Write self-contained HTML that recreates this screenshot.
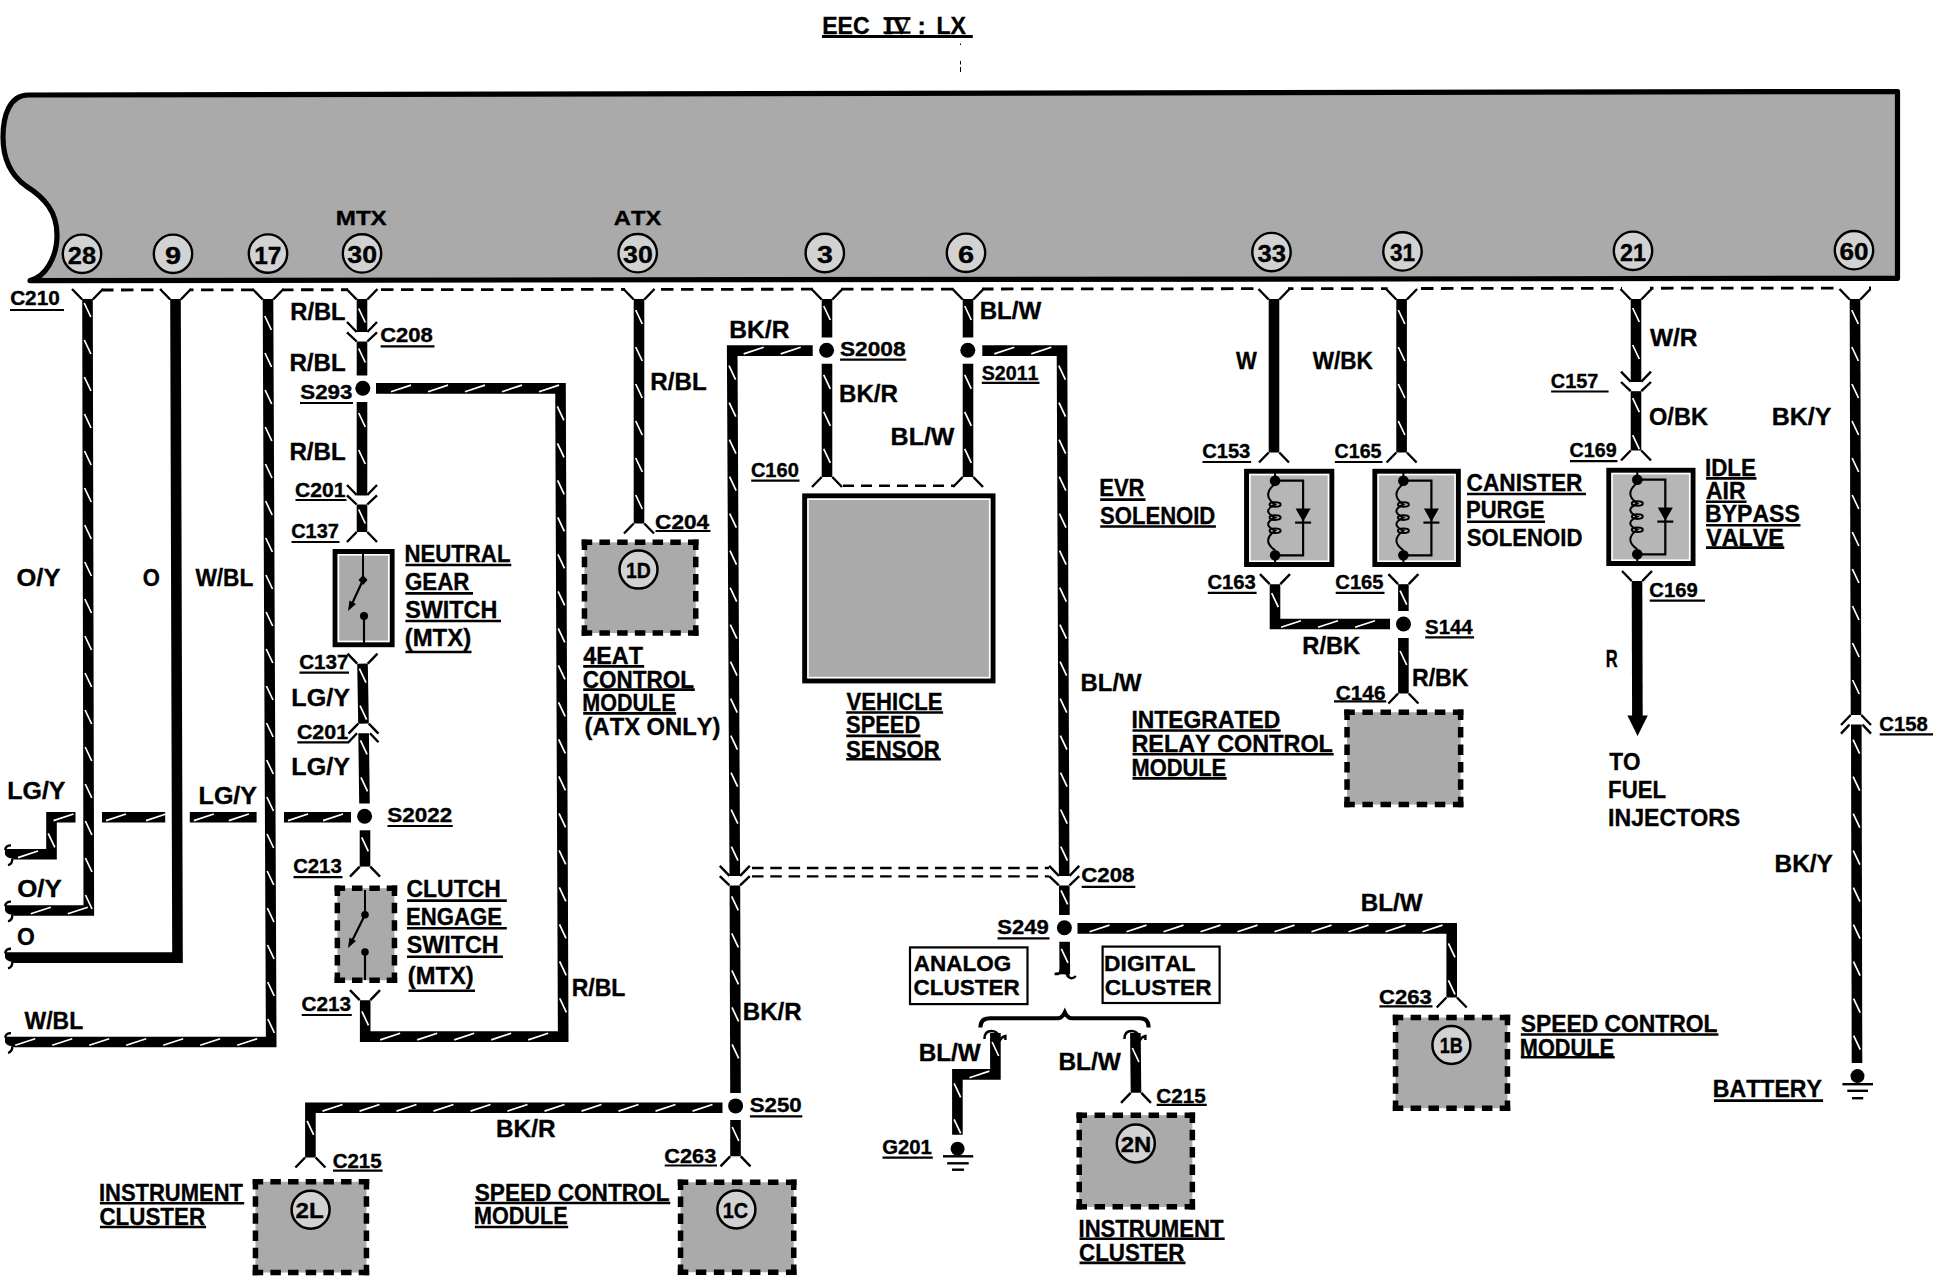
<!DOCTYPE html>
<html><head><meta charset="utf-8"><title>EEC IV : LX</title>
<style>
html,body{margin:0;padding:0;background:#fff;}
body{width:1934px;height:1280px;overflow:hidden;}
svg{display:block;}
text{font-family:"Liberation Sans",sans-serif;font-weight:bold;fill:#000;font-kerning:none;stroke:#000;stroke-width:0.35px;}
</style></head>
<body>
<svg width="1934" height="1280" viewBox="0 0 1934 1280">
<rect width="1934" height="1280" fill="#fff"/>
<text x="822.26" y="33.7" font-size="23.55" textLength="47.37" lengthAdjust="spacingAndGlyphs">EEC</text>
<text x="884" y="33.7" font-size="23.5" style="font-family:'Liberation Serif',serif" textLength="26" lengthAdjust="spacingAndGlyphs">IV</text>
<line x1="883.5" y1="18.3" x2="910.5" y2="18.3" stroke="#000" stroke-width="2.4"/>
<line x1="883.5" y1="32.6" x2="910.5" y2="32.6" stroke="#000" stroke-width="2.4"/>
<text x="917.61" y="33.7" font-size="23.55" textLength="8.29" lengthAdjust="spacingAndGlyphs">:</text>
<text x="936.45" y="33.7" font-size="23.55" textLength="29.55" lengthAdjust="spacingAndGlyphs">LX</text>
<line x1="822" y1="36.6" x2="972.8" y2="36.6" stroke="#000" stroke-width="3"/>
<line x1="960.5" y1="43.5" x2="960.5" y2="45" stroke="#000" stroke-width="1"/>
<line x1="960.5" y1="61" x2="960.5" y2="64.5" stroke="#000" stroke-width="1"/>
<line x1="960.5" y1="67" x2="960.5" y2="72" stroke="#000" stroke-width="1"/>
<path d="M 28 95 L 1897.5 91.5 L 1897.5 278.3 L 30 280.6 C 45 277 57 258 57 235 C 57 212 45 198 26 186 C 12 176 3 160 3 137 C 3 115 10 95 28 95 Z" fill="#aaaaaa" stroke="#000" stroke-width="5.2" stroke-linejoin="round"/>
<circle cx="82" cy="253.8" r="19.2" fill="#d2d2d2" stroke="#000" stroke-width="2.4"/>
<text x="67.87" y="263.8" font-size="23.84" textLength="28.16" lengthAdjust="spacingAndGlyphs">28</text>
<circle cx="173" cy="253.8" r="19.2" fill="#d2d2d2" stroke="#000" stroke-width="2.4"/>
<text x="165" y="263.8" font-size="23.84" textLength="16.07" lengthAdjust="spacingAndGlyphs">9</text>
<circle cx="268" cy="253.6" r="19.2" fill="#d2d2d2" stroke="#000" stroke-width="2.4"/>
<text x="254.22" y="263.6" font-size="23.84" textLength="27.11" lengthAdjust="spacingAndGlyphs">17</text>
<circle cx="362" cy="253.4" r="19.2" fill="#d2d2d2" stroke="#000" stroke-width="2.4"/>
<text x="347.39" y="263.4" font-size="23.84" textLength="29.71" lengthAdjust="spacingAndGlyphs">30</text>
<circle cx="637.7" cy="253.2" r="19.2" fill="#d2d2d2" stroke="#000" stroke-width="2.4"/>
<text x="623.09" y="263.2" font-size="23.84" textLength="29.71" lengthAdjust="spacingAndGlyphs">30</text>
<circle cx="824.8" cy="253" r="19.2" fill="#d2d2d2" stroke="#000" stroke-width="2.4"/>
<text x="817.04" y="263" font-size="23.84" textLength="15.89" lengthAdjust="spacingAndGlyphs">3</text>
<circle cx="966" cy="252.8" r="19.2" fill="#d2d2d2" stroke="#000" stroke-width="2.4"/>
<text x="957.94" y="262.8" font-size="23.84" textLength="16.11" lengthAdjust="spacingAndGlyphs">6</text>
<circle cx="1271.5" cy="252.1" r="19.2" fill="#d2d2d2" stroke="#000" stroke-width="2.4"/>
<text x="1257.41" y="262.1" font-size="23.84" textLength="28.51" lengthAdjust="spacingAndGlyphs">33</text>
<circle cx="1402.5" cy="251.4" r="19.2" fill="#d2d2d2" stroke="#000" stroke-width="2.4"/>
<text x="1389.98" y="261.4" font-size="23.84" textLength="25.15" lengthAdjust="spacingAndGlyphs">31</text>
<circle cx="1633" cy="250.8" r="19.2" fill="#d2d2d2" stroke="#000" stroke-width="2.4"/>
<text x="1619.89" y="260.8" font-size="23.84" textLength="26.06" lengthAdjust="spacingAndGlyphs">21</text>
<circle cx="1854" cy="250.2" r="19.2" fill="#d2d2d2" stroke="#000" stroke-width="2.4"/>
<text x="1839.54" y="260.2" font-size="23.84" textLength="29.03" lengthAdjust="spacingAndGlyphs">60</text>
<text x="335.79" y="225.15" font-size="21.08" textLength="50.93" lengthAdjust="spacingAndGlyphs">MTX</text>
<text x="613.81" y="225.25" font-size="21.08" textLength="47.4" lengthAdjust="spacingAndGlyphs">ATX</text>
<line x1="101" y1="290" x2="1871" y2="288" stroke="#000" stroke-width="2.8" stroke-dasharray="12.5 7.5"/>
<rect x="73.5" y="284" width="28" height="9" fill="#fff"/>
<path d="M 72 289 L 82.2 299.5 M 103 289 L 92.8 299.5" stroke="#000" stroke-width="2.4" fill="none"/>
<rect x="161.5" y="284" width="28" height="9" fill="#fff"/>
<path d="M 160 289 L 170.2 299.5 M 191 289 L 180.8 299.5" stroke="#000" stroke-width="2.4" fill="none"/>
<rect x="254" y="284" width="28" height="9" fill="#fff"/>
<path d="M 252.5 289 L 262.7 299.5 M 283.5 289 L 273.3 299.5" stroke="#000" stroke-width="2.4" fill="none"/>
<rect x="348" y="284" width="28" height="9" fill="#fff"/>
<path d="M 346.5 289 L 356.7 299.5 M 377.5 289 L 367.3 299.5" stroke="#000" stroke-width="2.4" fill="none"/>
<rect x="625" y="284" width="28" height="9" fill="#fff"/>
<path d="M 623.5 289 L 633.7 299.5 M 654.5 289 L 644.3 299.5" stroke="#000" stroke-width="2.4" fill="none"/>
<rect x="813" y="284" width="28" height="9" fill="#fff"/>
<path d="M 811.5 289 L 821.7 299.5 M 842.5 289 L 832.3 299.5" stroke="#000" stroke-width="2.4" fill="none"/>
<rect x="954" y="284" width="28" height="9" fill="#fff"/>
<path d="M 952.5 289 L 962.7 299.5 M 983.5 289 L 973.3 299.5" stroke="#000" stroke-width="2.4" fill="none"/>
<rect x="1260" y="284" width="28" height="9" fill="#fff"/>
<path d="M 1258.5 289 L 1268.7 299.5 M 1289.5 289 L 1279.3 299.5" stroke="#000" stroke-width="2.4" fill="none"/>
<rect x="1387.6" y="284" width="28" height="9" fill="#fff"/>
<path d="M 1386.1 289 L 1396.3 299.5 M 1417.1 289 L 1406.9 299.5" stroke="#000" stroke-width="2.4" fill="none"/>
<rect x="1622" y="284" width="28" height="9" fill="#fff"/>
<path d="M 1620.5 289 L 1630.7 299.5 M 1651.5 289 L 1641.3 299.5" stroke="#000" stroke-width="2.4" fill="none"/>
<rect x="1841" y="284" width="28" height="9" fill="#fff"/>
<path d="M 1839.5 289 L 1849.7 299.5 M 1870.5 289 L 1860.3 299.5" stroke="#000" stroke-width="2.4" fill="none"/>
<text x="10.15" y="305.4" font-size="20.35" textLength="49.6" lengthAdjust="spacingAndGlyphs">C210</text>
<line x1="10" y1="310" x2="64" y2="310" stroke="#000" stroke-width="2.2"/>
<path d="M 87.5 299 L 88.8 910.5 L 14 910.5" fill="none" stroke="#000" stroke-width="10.6" stroke-linejoin="miter" stroke-miterlimit="10"/>
<path d="M 84.22 303 L 90.82 317 M 84.3 340 L 90.9 354 M 84.38 377 L 90.98 391 M 84.46 414 L 91.06 428 M 84.54 451 L 91.14 465 M 84.62 488 L 91.22 502 M 84.7 525 L 91.3 539 M 84.77 562 L 91.37 576 M 84.85 599 L 91.45 613 M 84.93 636 L 91.53 650 M 85.01 673 L 91.61 687 M 85.09 710 L 91.69 724 M 85.17 747 L 91.77 761 M 85.25 784 L 91.85 798 M 85.32 821 L 91.92 835 M 85.4 858 L 92 872 M 85.48 895 L 92.08 909 M 67.8 913.8 L 87.8 907.2 M 30.8 913.8 L 50.8 907.2" stroke="#fff" stroke-width="1.7" fill="none"/>
<path d="M 14 905.2 L 5 905.2 L 5 910.5 Q 6 913.8 12 914.8 L 14 915.8 Z" fill="#000"/>
<path d="M 11 901.6 Q 5.5 901.6 5.2 906.2 M 12.3 914.8 Q 12.5 920.3 8 921.3" stroke="#000" stroke-width="2.4" fill="none"/>
<path d="M 175.5 299 L 177.5 957.6 L 14 957.6" fill="none" stroke="#000" stroke-width="10.6" stroke-linejoin="miter" stroke-miterlimit="10"/>
<path d="M 14 952.3 L 5 952.3 L 5 957.6 Q 6 960.9 12 961.9 L 14 962.9 Z" fill="#000"/>
<path d="M 11 948.7 Q 5.5 948.7 5.2 953.3 M 12.3 961.9 Q 12.5 967.4 8 968.4" stroke="#000" stroke-width="2.4" fill="none"/>
<path d="M 268 299 L 271.2 1042 L 14 1042" fill="none" stroke="#000" stroke-width="10.6" stroke-linejoin="miter" stroke-miterlimit="10"/>
<path d="M 264.8 316 L 271.4 330 M 264.96 353 L 271.56 367 M 265.12 390 L 271.72 404 M 265.28 427 L 271.88 441 M 265.44 464 L 272.04 478 M 265.6 501 L 272.2 515 M 265.76 538 L 272.36 552 M 265.92 575 L 272.52 589 M 266.08 612 L 272.68 626 M 266.24 649 L 272.84 663 M 266.4 686 L 273 700 M 266.56 723 L 273.16 737 M 266.72 760 L 273.32 774 M 266.87 797 L 273.47 811 M 267.03 833.99 L 273.63 847.99 M 267.19 870.99 L 273.79 884.99 M 267.35 907.99 L 273.95 921.99 M 267.51 944.99 L 274.11 958.99 M 267.67 981.99 L 274.27 995.99 M 267.83 1018.99 L 274.43 1032.99 M 237.2 1045.3 L 257.2 1038.7 M 200.2 1045.3 L 220.2 1038.7 M 163.2 1045.3 L 183.2 1038.7 M 126.2 1045.3 L 146.2 1038.7 M 89.2 1045.3 L 109.2 1038.7 M 52.2 1045.3 L 72.2 1038.7 M 15.2 1045.3 L 35.2 1038.7" stroke="#fff" stroke-width="1.7" fill="none"/>
<path d="M 14 1036.7 L 5 1036.7 L 5 1042 Q 6 1045.3 12 1046.3 L 14 1047.3 Z" fill="#000"/>
<path d="M 11 1033.1 Q 5.5 1033.1 5.2 1037.7 M 12.3 1046.3 Q 12.5 1051.8 8 1052.8" stroke="#000" stroke-width="2.4" fill="none"/>
<path d="M 14 854.3 L 51.5 854.3 L 51.5 817.3 L 75.5 817.3" fill="none" stroke="#000" stroke-width="10.6" stroke-linejoin="miter" stroke-miterlimit="10"/>
<path d="M 18 857.6 L 38 851 M 48.2 833.3 L 54.8 847.3 M 53.5 820.6 L 73.5 814" stroke="#fff" stroke-width="1.7" fill="none"/>
<path d="M 14 849 L 5 849 L 5 854.3 Q 6 857.6 12 858.6 L 14 859.6 Z" fill="#000"/>
<path d="M 11 845.4 Q 5.5 845.4 5.2 850 M 12.3 858.6 Q 12.5 864.1 8 865.1" stroke="#000" stroke-width="2.4" fill="none"/>
<path d="M 102 817.3 L 165.2 817.3" fill="none" stroke="#000" stroke-width="10.6" stroke-linejoin="miter" stroke-miterlimit="10"/>
<path d="M 106 820.6 L 126 814 M 146 820.6 L 166 814" stroke="#fff" stroke-width="1.7" fill="none"/>
<path d="M 189.8 817.3 L 256.6 817.3" fill="none" stroke="#000" stroke-width="10.6" stroke-linejoin="miter" stroke-miterlimit="10"/>
<path d="M 193.8 820.6 L 213.8 814 M 228.8 820.6 L 248.8 814" stroke="#fff" stroke-width="1.7" fill="none"/>
<path d="M 284 817.3 L 351 817.3" fill="none" stroke="#000" stroke-width="10.6" stroke-linejoin="miter" stroke-miterlimit="10"/>
<path d="M 288 820.6 L 308 814 M 323 820.6 L 343 814" stroke="#fff" stroke-width="1.7" fill="none"/>
<text x="16.56" y="585.55" font-size="23.98" textLength="43.85" lengthAdjust="spacingAndGlyphs">O/Y</text>
<text x="142.8" y="585.55" font-size="23.98" textLength="17.13" lengthAdjust="spacingAndGlyphs">O</text>
<text x="195.38" y="585.55" font-size="23.98" textLength="58.02" lengthAdjust="spacingAndGlyphs">W/BL</text>
<text x="7.23" y="799.25" font-size="23.98" textLength="58.27" lengthAdjust="spacingAndGlyphs">LG/Y</text>
<text x="198.63" y="803.75" font-size="23.98" textLength="58.38" lengthAdjust="spacingAndGlyphs">LG/Y</text>
<text x="17.24" y="897.45" font-size="23.98" textLength="44.58" lengthAdjust="spacingAndGlyphs">O/Y</text>
<text x="16.96" y="945.05" font-size="23.98" textLength="17.8" lengthAdjust="spacingAndGlyphs">O</text>
<text x="24.58" y="1029.15" font-size="23.98" textLength="58.63" lengthAdjust="spacingAndGlyphs">W/BL</text>
<path d="M 362 299 L 362 332" fill="none" stroke="#000" stroke-width="10.6" stroke-linejoin="miter" stroke-miterlimit="10"/>
<path d="M 358.7 308.5 L 365.3 322.5" stroke="#fff" stroke-width="1.7" fill="none"/>
<path d="M 347 322 L 356.7 332 M 377 322 L 367.3 332" stroke="#000" stroke-width="2.4" fill="none"/>
<path d="M 347 332.3 L 356.7 341.5 M 377 332.3 L 367.3 341.5" stroke="#000" stroke-width="2.4" fill="none"/>
<path d="M 362 341.5 L 362 375.5" fill="none" stroke="#000" stroke-width="10.6" stroke-linejoin="miter" stroke-miterlimit="10"/>
<path d="M 358.7 348.5 L 365.3 362.5" stroke="#fff" stroke-width="1.7" fill="none"/>
<circle cx="362.8" cy="388.3" r="7.5" fill="#000"/>
<path d="M 362 402 L 362 495.5" fill="none" stroke="#000" stroke-width="10.6" stroke-linejoin="miter" stroke-miterlimit="10"/>
<path d="M 358.7 413 L 365.3 427 M 358.7 450 L 365.3 464" stroke="#fff" stroke-width="1.7" fill="none"/>
<path d="M 347 485 L 356.7 495 M 377 485 L 367.3 495" stroke="#000" stroke-width="2.4" fill="none"/>
<path d="M 347 495.3 L 356.7 504.5 M 377 495.3 L 367.3 504.5" stroke="#000" stroke-width="2.4" fill="none"/>
<path d="M 362 504.5 L 362 532" fill="none" stroke="#000" stroke-width="10.6" stroke-linejoin="miter" stroke-miterlimit="10"/>
<path d="M 358.7 509.5 L 365.3 523.5" stroke="#fff" stroke-width="1.7" fill="none"/>
<path d="M 356.7 532 L 347 542 M 367.3 532 L 377 542" stroke="#000" stroke-width="2.4" fill="none"/>
<rect x="335.1" y="551.5" width="57" height="93.2" fill="#aaaaaa" stroke="#000" stroke-width="5"/>
<rect x="338.4" y="554.8" width="50.4" height="86.6" fill="none" stroke="#fff" stroke-width="1.6"/>
<line x1="363" y1="553" x2="363" y2="580" stroke="#000" stroke-width="2"/>
<path d="M 363 575 L 367.5 580 L 363 585 L 358.5 580 Z" fill="#000"/>
<line x1="363" y1="580" x2="351" y2="606" stroke="#000" stroke-width="2.2"/>
<path d="M 348 611 L 349.5 600.5 L 356 604 Z" fill="#000"/>
<circle cx="364" cy="616" r="4" fill="#000"/>
<line x1="364" y1="616" x2="364" y2="645" stroke="#000" stroke-width="2.2"/>
<path d="M 347.5 653.7 L 357.2 663.7 M 377.5 653.7 L 367.8 663.7" stroke="#000" stroke-width="2.4" fill="none"/>
<path d="M 362.5 663.7 L 363.5 723.7" fill="none" stroke="#000" stroke-width="10.6" stroke-linejoin="miter" stroke-miterlimit="10"/>
<path d="M 359.4 668.7 L 366 682.7 M 360.02 705.69 L 366.62 719.69" stroke="#fff" stroke-width="1.7" fill="none"/>
<path d="M 358.2 723.7 L 348.5 733.7 M 368.8 723.7 L 378.5 733.7" stroke="#000" stroke-width="2.4" fill="none"/>
<path d="M 357 733.3 L 348.5 742.3 M 370 733.3 L 378.5 742.3" stroke="#000" stroke-width="2.4" fill="none"/>
<path d="M 363.6 733.3 L 364.5 803.5" fill="none" stroke="#000" stroke-width="10.6" stroke-linejoin="miter" stroke-miterlimit="10"/>
<path d="M 360.48 740.3 L 367.08 754.3 M 360.95 777.3 L 367.55 791.3" stroke="#fff" stroke-width="1.7" fill="none"/>
<circle cx="364.6" cy="816.2" r="7.5" fill="#000"/>
<path d="M 365 830.3 L 365 866.6" fill="none" stroke="#000" stroke-width="10.6" stroke-linejoin="miter" stroke-miterlimit="10"/>
<path d="M 361.7 837.3 L 368.3 851.3" stroke="#fff" stroke-width="1.7" fill="none"/>
<path d="M 359.7 866.6 L 350 876.6 M 370.3 866.6 L 380 876.6" stroke="#000" stroke-width="2.4" fill="none"/>
<rect x="337.35" y="888.15" width="57.1" height="92.1" fill="#aaaaaa"/>
<line x1="334.6" y1="888.15" x2="397.2" y2="888.15" stroke="#000" stroke-width="5.5" stroke-dasharray="10.5 6.87"/>
<line x1="334.6" y1="980.25" x2="397.2" y2="980.25" stroke="#000" stroke-width="5.5" stroke-dasharray="10.5 6.87"/>
<line x1="337.35" y1="885.4" x2="337.35" y2="983" stroke="#000" stroke-width="5.5" stroke-dasharray="10.5 6.92"/>
<line x1="394.45" y1="885.4" x2="394.45" y2="983" stroke="#000" stroke-width="5.5" stroke-dasharray="10.5 6.92"/>
<line x1="365" y1="890" x2="365" y2="914.7" stroke="#000" stroke-width="2"/>
<circle cx="365" cy="914.7" r="3.8" fill="#000"/>
<line x1="365" y1="914.7" x2="351" y2="943" stroke="#000" stroke-width="2.2"/>
<path d="M 348 948 L 349.5 937.5 L 356 941 Z" fill="#000"/>
<circle cx="365" cy="952" r="3.8" fill="#000"/>
<line x1="365" y1="952" x2="365" y2="980" stroke="#000" stroke-width="2.2"/>
<path d="M 350 990.2 L 359.7 1000.2 M 380 990.2 L 370.3 1000.2" stroke="#000" stroke-width="2.4" fill="none"/>
<path d="M 376 388.4 L 560.5 388.4 L 563.2 1036.6 L 365.2 1036.6 L 365.2 1000.2" fill="none" stroke="#000" stroke-width="10.6" stroke-linejoin="miter" stroke-miterlimit="10"/>
<path d="M 391 391.7 L 411 385.1 M 428 391.7 L 448 385.1 M 465 391.7 L 485 385.1 M 502 391.7 L 522 385.1 M 539 391.7 L 559 385.1 M 557.3 406.4 L 563.9 420.4 M 557.46 443.4 L 564.06 457.4 M 557.61 480.4 L 564.21 494.4 M 557.77 517.4 L 564.37 531.4 M 557.92 554.4 L 564.52 568.4 M 558.07 591.4 L 564.67 605.4 M 558.23 628.4 L 564.83 642.4 M 558.38 665.4 L 564.98 679.4 M 558.54 702.4 L 565.14 716.4 M 558.69 739.4 L 565.29 753.4 M 558.85 776.4 L 565.45 790.4 M 559 813.4 L 565.6 827.4 M 559.15 850.4 L 565.75 864.4 M 559.31 887.4 L 565.91 901.4 M 559.46 924.4 L 566.06 938.4 M 559.62 961.39 L 566.22 975.39 M 559.77 998.39 L 566.37 1012.39 M 528.2 1039.9 L 548.2 1033.3 M 491.2 1039.9 L 511.2 1033.3 M 454.2 1039.9 L 474.2 1033.3 M 417.2 1039.9 L 437.2 1033.3 M 380.2 1039.9 L 400.2 1033.3 M 361.9 1011.4 L 368.5 1025.4" stroke="#fff" stroke-width="1.7" fill="none"/>
<text x="290.31" y="319.9" font-size="24.42" textLength="55.32" lengthAdjust="spacingAndGlyphs">R/BL</text>
<text x="380.2" y="342.4" font-size="20.35" textLength="52.68" lengthAdjust="spacingAndGlyphs">C208</text>
<line x1="380.6" y1="346.4" x2="434.5" y2="346.4" stroke="#000" stroke-width="2.2"/>
<text x="289.38" y="371.2" font-size="24.42" textLength="56.36" lengthAdjust="spacingAndGlyphs">R/BL</text>
<text x="300.36" y="398.6" font-size="20.35" textLength="52.05" lengthAdjust="spacingAndGlyphs">S293</text>
<line x1="300" y1="403" x2="353" y2="403" stroke="#000" stroke-width="2.2"/>
<text x="289.38" y="459.9" font-size="24.42" textLength="56.36" lengthAdjust="spacingAndGlyphs">R/BL</text>
<text x="295.13" y="496.9" font-size="20.35" textLength="50.45" lengthAdjust="spacingAndGlyphs">C201</text>
<line x1="295.5" y1="500" x2="346.5" y2="500" stroke="#000" stroke-width="2.2"/>
<text x="291.18" y="538.3" font-size="20.35" textLength="47.7" lengthAdjust="spacingAndGlyphs">C137</text>
<line x1="291.5" y1="542" x2="339.5" y2="542" stroke="#000" stroke-width="2.2"/>
<text x="404.41" y="561.75" font-size="24.27" textLength="106.07" lengthAdjust="spacingAndGlyphs">NEUTRAL</text>
<line x1="405.4" y1="565" x2="511.3" y2="565" stroke="#000" stroke-width="2.6"/>
<text x="404.99" y="589.95" font-size="24.27" textLength="64.37" lengthAdjust="spacingAndGlyphs">GEAR</text>
<line x1="405.4" y1="593.4" x2="473" y2="593.4" stroke="#000" stroke-width="2.6"/>
<text x="405.23" y="617.65" font-size="24.27" textLength="92.15" lengthAdjust="spacingAndGlyphs">SWITCH</text>
<line x1="405.4" y1="621" x2="501" y2="621" stroke="#000" stroke-width="2.6"/>
<text x="404.71" y="646" font-size="23.55" textLength="66.48" lengthAdjust="spacingAndGlyphs">(MTX)</text>
<line x1="405.4" y1="652" x2="471.5" y2="652" stroke="#000" stroke-width="2.6"/>
<text x="299.16" y="668.8" font-size="20.35" textLength="49.25" lengthAdjust="spacingAndGlyphs">C137</text>
<line x1="299.5" y1="672.6" x2="349" y2="672.6" stroke="#000" stroke-width="2.2"/>
<text x="291.32" y="706.05" font-size="23.98" textLength="58.58" lengthAdjust="spacingAndGlyphs">LG/Y</text>
<text x="296.92" y="738.9" font-size="20.35" textLength="51.17" lengthAdjust="spacingAndGlyphs">C201</text>
<line x1="297.3" y1="742.3" x2="349" y2="742.3" stroke="#000" stroke-width="2.2"/>
<text x="291.32" y="774.95" font-size="23.98" textLength="58.58" lengthAdjust="spacingAndGlyphs">LG/Y</text>
<text x="387.35" y="822.3" font-size="20.35" textLength="64.84" lengthAdjust="spacingAndGlyphs">S2022</text>
<line x1="387.5" y1="826" x2="452.8" y2="826" stroke="#000" stroke-width="2.2"/>
<text x="293.17" y="873.4" font-size="20.35" textLength="48.57" lengthAdjust="spacingAndGlyphs">C213</text>
<line x1="293.5" y1="877.2" x2="342.5" y2="877.2" stroke="#000" stroke-width="2.2"/>
<text x="406.56" y="897.15" font-size="23.98" textLength="94.29" lengthAdjust="spacingAndGlyphs">CLUTCH</text>
<line x1="407" y1="900.6" x2="506.8" y2="900.6" stroke="#000" stroke-width="2.6"/>
<text x="406.02" y="925.05" font-size="23.98" textLength="96.05" lengthAdjust="spacingAndGlyphs">ENGAGE</text>
<line x1="407" y1="928.2" x2="506.8" y2="928.2" stroke="#000" stroke-width="2.6"/>
<text x="406.83" y="953.25" font-size="23.98" textLength="91.74" lengthAdjust="spacingAndGlyphs">SWITCH</text>
<line x1="407" y1="956.8" x2="502.9" y2="956.8" stroke="#000" stroke-width="2.6"/>
<text x="407.82" y="983.7" font-size="23.55" textLength="65.76" lengthAdjust="spacingAndGlyphs">(MTX)</text>
<line x1="408.5" y1="990.8" x2="475" y2="990.8" stroke="#000" stroke-width="2.6"/>
<text x="301.45" y="1011" font-size="20.35" textLength="49.6" lengthAdjust="spacingAndGlyphs">C213</text>
<line x1="301.8" y1="1015" x2="351.8" y2="1015" stroke="#000" stroke-width="2.2"/>
<text x="571.66" y="995.95" font-size="23.98" textLength="53.75" lengthAdjust="spacingAndGlyphs">R/BL</text>
<path d="M 639 299 L 639 523.5" fill="none" stroke="#000" stroke-width="10.6" stroke-linejoin="miter" stroke-miterlimit="10"/>
<path d="M 635.7 310 L 642.3 324 M 635.7 347 L 642.3 361 M 635.7 384 L 642.3 398 M 635.7 421 L 642.3 435 M 635.7 458 L 642.3 472 M 635.7 495 L 642.3 509" stroke="#fff" stroke-width="1.7" fill="none"/>
<path d="M 633.7 523.5 L 624 533.5 M 644.3 523.5 L 654 533.5" stroke="#000" stroke-width="2.4" fill="none"/>
<text x="650.38" y="389.55" font-size="23.98" textLength="56.36" lengthAdjust="spacingAndGlyphs">R/BL</text>
<text x="655.07" y="528.9" font-size="20.35" textLength="54.05" lengthAdjust="spacingAndGlyphs">C204</text>
<line x1="655.5" y1="531" x2="710.5" y2="531" stroke="#000" stroke-width="2.2"/>
<rect x="584.45" y="542.35" width="111.3" height="90.7" fill="#aaaaaa"/>
<line x1="581.7" y1="542.35" x2="698.5" y2="542.35" stroke="#000" stroke-width="5.5" stroke-dasharray="10.5 7.22"/>
<line x1="581.7" y1="633.05" x2="698.5" y2="633.05" stroke="#000" stroke-width="5.5" stroke-dasharray="10.5 7.22"/>
<line x1="584.45" y1="539.6" x2="584.45" y2="635.8" stroke="#000" stroke-width="5.5" stroke-dasharray="10.5 6.64"/>
<line x1="695.75" y1="539.6" x2="695.75" y2="635.8" stroke="#000" stroke-width="5.5" stroke-dasharray="10.5 6.64"/>
<circle cx="638.5" cy="569.6" r="19" fill="#d2d2d2" stroke="#000" stroke-width="2.5"/>
<text x="625.98" y="578.4" font-size="22.97" textLength="24.84" lengthAdjust="spacingAndGlyphs">1D</text>
<text x="583.35" y="663.75" font-size="23.98" textLength="59.6" lengthAdjust="spacingAndGlyphs">4EAT</text>
<line x1="583.2" y1="666.4" x2="644.2" y2="666.4" stroke="#000" stroke-width="2.6"/>
<text x="582.78" y="687.55" font-size="23.98" textLength="111.21" lengthAdjust="spacingAndGlyphs">CONTROL</text>
<line x1="583.2" y1="689.6" x2="694.8" y2="689.6" stroke="#000" stroke-width="2.6"/>
<text x="582.26" y="711.25" font-size="23.98" textLength="93.28" lengthAdjust="spacingAndGlyphs">MODULE</text>
<line x1="583.2" y1="713.4" x2="676.2" y2="713.4" stroke="#000" stroke-width="2.6"/>
<text x="584.62" y="734.9" font-size="23.55" textLength="135.76" lengthAdjust="spacingAndGlyphs">(ATX ONLY)</text>
<path d="M 827 299 L 827 337.5" fill="none" stroke="#000" stroke-width="10.6" stroke-linejoin="miter" stroke-miterlimit="10"/>
<path d="M 823.7 306 L 830.3 320" stroke="#fff" stroke-width="1.7" fill="none"/>
<circle cx="826.6" cy="350.3" r="7.5" fill="#000"/>
<path d="M 827 363.8 L 827 477" fill="none" stroke="#000" stroke-width="10.6" stroke-linejoin="miter" stroke-miterlimit="10"/>
<path d="M 823.7 374.8 L 830.3 388.8 M 823.7 411.8 L 830.3 425.8 M 823.7 448.8 L 830.3 462.8" stroke="#fff" stroke-width="1.7" fill="none"/>
<path d="M 821.7 477 L 812 487 M 832.3 477 L 842 487" stroke="#000" stroke-width="2.4" fill="none"/>
<path d="M 812.7 350.6 L 732.2 350.6 L 734.8 876" fill="none" stroke="#000" stroke-width="10.6" stroke-linejoin="miter" stroke-miterlimit="10"/>
<path d="M 780.7 353.9 L 800.7 347.3 M 743.7 353.9 L 763.7 347.3 M 729.01 365.6 L 735.61 379.6 M 729.19 402.6 L 735.79 416.6 M 729.38 439.6 L 735.98 453.6 M 729.56 476.6 L 736.16 490.6 M 729.74 513.6 L 736.34 527.6 M 729.92 550.6 L 736.52 564.6 M 730.11 587.6 L 736.71 601.6 M 730.29 624.6 L 736.89 638.6 M 730.47 661.6 L 737.07 675.6 M 730.66 698.6 L 737.26 712.6 M 730.84 735.6 L 737.44 749.6 M 731.02 772.59 L 737.62 786.59 M 731.21 809.59 L 737.81 823.59 M 731.39 846.59 L 737.99 860.59" stroke="#fff" stroke-width="1.7" fill="none"/>
<path d="M 719.8 865.9 L 729.5 875.9 M 749.8 865.9 L 740.1 875.9" stroke="#000" stroke-width="2.4" fill="none"/>
<path d="M 719.8 876.2 L 729.5 885.4 M 749.8 876.2 L 740.1 885.4" stroke="#000" stroke-width="2.4" fill="none"/>
<line x1="752" y1="868" x2="1049" y2="868" stroke="#000" stroke-width="2.4" stroke-dasharray="11.5 6.8"/>
<line x1="752" y1="876.4" x2="1049" y2="876.4" stroke="#000" stroke-width="2.4" stroke-dasharray="11.5 6.8"/>
<path d="M 734.9 885.4 L 735.5 1093" fill="none" stroke="#000" stroke-width="10.6" stroke-linejoin="miter" stroke-miterlimit="10"/>
<path d="M 731.65 896.4 L 738.25 910.4 M 731.76 933.4 L 738.36 947.4 M 731.87 970.4 L 738.47 984.4 M 731.97 1007.4 L 738.57 1021.4 M 732.08 1044.4 L 738.68 1058.4" stroke="#fff" stroke-width="1.7" fill="none"/>
<circle cx="735.6" cy="1105.9" r="7.5" fill="#000"/>
<path d="M 735.5 1120 L 735.5 1156.3" fill="none" stroke="#000" stroke-width="10.6" stroke-linejoin="miter" stroke-miterlimit="10"/>
<path d="M 732.2 1127 L 738.8 1141" stroke="#fff" stroke-width="1.7" fill="none"/>
<path d="M 730.2 1156.3 L 720.5 1166.3 M 740.8 1156.3 L 750.5 1166.3" stroke="#000" stroke-width="2.4" fill="none"/>
<path d="M 722.5 1107.8 L 310.4 1107.8 L 310.4 1157.5" fill="none" stroke="#000" stroke-width="10.6" stroke-linejoin="miter" stroke-miterlimit="10"/>
<path d="M 692.5 1111.1 L 712.5 1104.5 M 655.5 1111.1 L 675.5 1104.5 M 618.5 1111.1 L 638.5 1104.5 M 581.5 1111.1 L 601.5 1104.5 M 544.5 1111.1 L 564.5 1104.5 M 507.5 1111.1 L 527.5 1104.5 M 470.5 1111.1 L 490.5 1104.5 M 433.5 1111.1 L 453.5 1104.5 M 396.5 1111.1 L 416.5 1104.5 M 359.5 1111.1 L 379.5 1104.5 M 322.5 1111.1 L 342.5 1104.5 M 307.1 1120.8 L 313.7 1134.8" stroke="#fff" stroke-width="1.7" fill="none"/>
<path d="M 305.1 1157.5 L 295.4 1167.5 M 315.7 1157.5 L 325.4 1167.5" stroke="#000" stroke-width="2.4" fill="none"/>
<text x="729.36" y="337.55" font-size="23.98" textLength="60.05" lengthAdjust="spacingAndGlyphs">BK/R</text>
<text x="839.95" y="355.8" font-size="20.35" textLength="65.55" lengthAdjust="spacingAndGlyphs">S2008</text>
<line x1="840.1" y1="359.6" x2="906.3" y2="359.6" stroke="#000" stroke-width="2.2"/>
<text x="838.99" y="402.05" font-size="23.98" textLength="59.01" lengthAdjust="spacingAndGlyphs">BK/R</text>
<text x="750.88" y="477.3" font-size="20.35" textLength="47.95" lengthAdjust="spacingAndGlyphs">C160</text>
<line x1="751.2" y1="480.6" x2="799.5" y2="480.6" stroke="#000" stroke-width="2.2"/>
<text x="742.89" y="1019.65" font-size="23.98" textLength="58.8" lengthAdjust="spacingAndGlyphs">BK/R</text>
<text x="749.76" y="1112.3" font-size="20.35" textLength="51.95" lengthAdjust="spacingAndGlyphs">S250</text>
<line x1="749.9" y1="1116.4" x2="802.3" y2="1116.4" stroke="#000" stroke-width="2.2"/>
<text x="496.07" y="1136.75" font-size="23.98" textLength="59.42" lengthAdjust="spacingAndGlyphs">BK/R</text>
<text x="664.31" y="1163.3" font-size="20.35" textLength="51.98" lengthAdjust="spacingAndGlyphs">C263</text>
<line x1="664.7" y1="1165.5" x2="717" y2="1165.5" stroke="#000" stroke-width="2.2"/>
<text x="332.66" y="1168.3" font-size="20.35" textLength="49.01" lengthAdjust="spacingAndGlyphs">C215</text>
<line x1="333" y1="1170.6" x2="382.6" y2="1170.6" stroke="#000" stroke-width="2.2"/>
<path d="M 968 299 L 968 337.5" fill="none" stroke="#000" stroke-width="10.6" stroke-linejoin="miter" stroke-miterlimit="10"/>
<path d="M 964.7 306 L 971.3 320" stroke="#fff" stroke-width="1.7" fill="none"/>
<circle cx="967.8" cy="350.3" r="7.5" fill="#000"/>
<path d="M 968 363.8 L 968 477" fill="none" stroke="#000" stroke-width="10.6" stroke-linejoin="miter" stroke-miterlimit="10"/>
<path d="M 964.7 374.8 L 971.3 388.8 M 964.7 411.8 L 971.3 425.8 M 964.7 448.8 L 971.3 462.8" stroke="#fff" stroke-width="1.7" fill="none"/>
<path d="M 962.7 477 L 953 487 M 973.3 477 L 983 487" stroke="#000" stroke-width="2.4" fill="none"/>
<line x1="843" y1="485.8" x2="954" y2="485.8" stroke="#000" stroke-width="2.6" stroke-dasharray="11 7"/>
<path d="M 982.3 350.6 L 1062 350.6 L 1064.2 876" fill="none" stroke="#000" stroke-width="10.6" stroke-linejoin="miter" stroke-miterlimit="10"/>
<path d="M 994.3 353.9 L 1014.3 347.3 M 1031.3 353.9 L 1051.3 347.3 M 1058.79 365.6 L 1065.39 379.6 M 1058.95 402.6 L 1065.55 416.6 M 1059.1 439.6 L 1065.7 453.6 M 1059.26 476.6 L 1065.86 490.6 M 1059.41 513.6 L 1066.01 527.6 M 1059.57 550.6 L 1066.17 564.6 M 1059.72 587.6 L 1066.32 601.6 M 1059.88 624.6 L 1066.48 638.6 M 1060.03 661.6 L 1066.63 675.6 M 1060.19 698.6 L 1066.79 712.6 M 1060.34 735.6 L 1066.94 749.6 M 1060.5 772.6 L 1067.1 786.6 M 1060.65 809.6 L 1067.25 823.6 M 1060.81 846.6 L 1067.41 860.6" stroke="#fff" stroke-width="1.7" fill="none"/>
<path d="M 1049.2 865.9 L 1058.9 875.9 M 1079.2 865.9 L 1069.5 875.9" stroke="#000" stroke-width="2.4" fill="none"/>
<path d="M 1049.2 876.2 L 1058.9 885.4 M 1079.2 876.2 L 1069.5 885.4" stroke="#000" stroke-width="2.4" fill="none"/>
<path d="M 1064.3 885.4 L 1064.4 914.9" fill="none" stroke="#000" stroke-width="10.6" stroke-linejoin="miter" stroke-miterlimit="10"/>
<path d="M 1061.04 890.4 L 1067.64 904.4" stroke="#fff" stroke-width="1.7" fill="none"/>
<circle cx="1064.4" cy="927.8" r="7.5" fill="#000"/>
<path d="M 1064.6 941.8 L 1064.8 974" fill="none" stroke="#000" stroke-width="10.6" stroke-linejoin="miter" stroke-miterlimit="10"/>
<path d="M 1061.39 948.8 L 1067.99 962.8" stroke="#fff" stroke-width="1.7" fill="none"/>
<path d="M 1060.8 969 Q 1060.8 975 1054.8 974 Q 1068.8 971 1068.8 977" stroke="#000" stroke-width="2.4" fill="none"/>
<path d="M 1066.8 975 Q 1070.8 981 1075.8 976 Q 1075.8 976 1075.8 976" stroke="#000" stroke-width="2.4" fill="none"/>
<path d="M 1077.5 928.4 L 1451.7 928.4 L 1451.7 997.5" fill="none" stroke="#000" stroke-width="10.6" stroke-linejoin="miter" stroke-miterlimit="10"/>
<path d="M 1089.5 931.7 L 1109.5 925.1 M 1126.5 931.7 L 1146.5 925.1 M 1163.5 931.7 L 1183.5 925.1 M 1200.5 931.7 L 1220.5 925.1 M 1237.5 931.7 L 1257.5 925.1 M 1274.5 931.7 L 1294.5 925.1 M 1311.5 931.7 L 1331.5 925.1 M 1348.5 931.7 L 1368.5 925.1 M 1385.5 931.7 L 1405.5 925.1 M 1422.5 931.7 L 1442.5 925.1 M 1448.4 943.4 L 1455 957.4 M 1448.4 980.4 L 1455 994.4" stroke="#fff" stroke-width="1.7" fill="none"/>
<path d="M 1446.4 997.5 L 1436.7 1007.5 M 1457 997.5 L 1466.7 1007.5" stroke="#000" stroke-width="2.4" fill="none"/>
<text x="979.69" y="319.25" font-size="23.98" textLength="61.64" lengthAdjust="spacingAndGlyphs">BL/W</text>
<text x="981.73" y="380.1" font-size="20.35" textLength="56.81" lengthAdjust="spacingAndGlyphs">S2011</text>
<line x1="981.8" y1="382.8" x2="1039.5" y2="382.8" stroke="#000" stroke-width="2.2"/>
<text x="890.63" y="445.45" font-size="23.98" textLength="63.79" lengthAdjust="spacingAndGlyphs">BL/W</text>
<text x="1080.6" y="690.95" font-size="23.98" textLength="60.92" lengthAdjust="spacingAndGlyphs">BL/W</text>
<text x="1081.29" y="882" font-size="20.35" textLength="53.2" lengthAdjust="spacingAndGlyphs">C208</text>
<line x1="1081.7" y1="886.8" x2="1135.3" y2="886.8" stroke="#000" stroke-width="2.2"/>
<text x="997.37" y="933.6" font-size="20.35" textLength="51.45" lengthAdjust="spacingAndGlyphs">S249</text>
<line x1="997.5" y1="938.3" x2="1049.5" y2="938.3" stroke="#000" stroke-width="2.2"/>
<text x="1360.68" y="910.55" font-size="23.98" textLength="61.95" lengthAdjust="spacingAndGlyphs">BL/W</text>
<text x="1378.99" y="1004" font-size="20.35" textLength="52.8" lengthAdjust="spacingAndGlyphs">C263</text>
<line x1="1379.4" y1="1006.4" x2="1432.5" y2="1006.4" stroke="#000" stroke-width="2.2"/>
<rect x="804.7" y="495.9" width="188.3" height="185" fill="#aaaaaa" stroke="#000" stroke-width="5"/>
<rect x="808" y="499.2" width="181.7" height="178.4" fill="none" stroke="#fff" stroke-width="1.6"/>
<text x="846.55" y="710.05" font-size="23.98" textLength="95.92" lengthAdjust="spacingAndGlyphs">VEHICLE</text>
<line x1="846.2" y1="712.5" x2="943.1" y2="712.5" stroke="#000" stroke-width="2.6"/>
<text x="846.07" y="733.45" font-size="23.98" textLength="74.15" lengthAdjust="spacingAndGlyphs">SPEED</text>
<line x1="846.2" y1="735.9" x2="920.5" y2="735.9" stroke="#000" stroke-width="2.6"/>
<text x="846.06" y="757.55" font-size="23.98" textLength="93.69" lengthAdjust="spacingAndGlyphs">SENSOR</text>
<line x1="846.2" y1="759.3" x2="940.8" y2="759.3" stroke="#000" stroke-width="2.6"/>
<rect x="910" y="947.4" width="117.5" height="56.7" fill="none" stroke="#000" stroke-width="2.2"/>
<text x="913.84" y="970.95" font-size="22.53" textLength="97.35" lengthAdjust="spacingAndGlyphs">ANALOG</text>
<text x="913.48" y="995.05" font-size="22.53" textLength="106.18" lengthAdjust="spacingAndGlyphs">CLUSTER</text>
<rect x="1102.6" y="946.6" width="117" height="56.4" fill="none" stroke="#000" stroke-width="2.2"/>
<text x="1104.07" y="970.75" font-size="22.53" textLength="91.33" lengthAdjust="spacingAndGlyphs">DIGITAL</text>
<text x="1104.67" y="994.75" font-size="22.53" textLength="106.89" lengthAdjust="spacingAndGlyphs">CLUSTER</text>
<path d="M 980.4 1027.5 Q 980.4 1018.2 990 1018.2 L 1058 1018.2 Q 1062 1018.2 1064.8 1012.3 Q 1067.5 1018.2 1072 1018.2 L 1140 1018.2 Q 1148.6 1018.2 1148.6 1027.5" stroke="#000" stroke-width="4" fill="none"/>
<path d="M 995.4 1033 L 995.4 1074.4 L 957.4 1074.4 L 957.4 1134.8" fill="none" stroke="#000" stroke-width="10.6" stroke-linejoin="miter" stroke-miterlimit="10"/>
<path d="M 992.1 1042 L 998.7 1056 M 969.4 1077.7 L 989.4 1071.1 M 954.1 1083.4 L 960.7 1097.4 M 954.1 1119.4 L 960.7 1133.4" stroke="#fff" stroke-width="1.7" fill="none"/>
<path d="M 984.4 1039 Q 984.4 1031 991.4 1031 Q 997.4 1031 999.4 1037" stroke="#000" stroke-width="2.4" fill="none"/>
<path d="M 999.4 1041 Q 1001.4 1037 1005.4 1036 L 1005.4 1040" stroke="#000" stroke-width="2.4" fill="none"/>
<path d="M 1135.4 1033 L 1136 1092.8" fill="none" stroke="#000" stroke-width="10.6" stroke-linejoin="miter" stroke-miterlimit="10"/>
<path d="M 1132.32 1048 L 1138.92 1062" stroke="#fff" stroke-width="1.7" fill="none"/>
<path d="M 1124.4 1039 Q 1124.4 1031 1131.4 1031 Q 1137.4 1031 1139.4 1037" stroke="#000" stroke-width="2.4" fill="none"/>
<path d="M 1139.4 1041 Q 1141.4 1037 1145.4 1036 L 1145.4 1040" stroke="#000" stroke-width="2.4" fill="none"/>
<path d="M 1130.7 1092.8 L 1121 1102.8 M 1141.3 1092.8 L 1151 1102.8" stroke="#000" stroke-width="2.4" fill="none"/>
<text x="918.68" y="1061.45" font-size="23.98" textLength="62.05" lengthAdjust="spacingAndGlyphs">BL/W</text>
<text x="1058.46" y="1069.95" font-size="23.98" textLength="62.46" lengthAdjust="spacingAndGlyphs">BL/W</text>
<text x="1156.35" y="1102.5" font-size="20.35" textLength="49.53" lengthAdjust="spacingAndGlyphs">C215</text>
<line x1="1156.7" y1="1104.8" x2="1206.8" y2="1104.8" stroke="#000" stroke-width="2.2"/>
<circle cx="957.6" cy="1148.8" r="7" fill="#000"/>
<line x1="943" y1="1156.3" x2="973.2" y2="1156.3" stroke="#000" stroke-width="2.4"/>
<line x1="947.2" y1="1163.3" x2="968.7" y2="1163.3" stroke="#000" stroke-width="2.4"/>
<line x1="952" y1="1169.7" x2="964" y2="1169.7" stroke="#000" stroke-width="2.4"/>
<text x="882.17" y="1154.3" font-size="20.35" textLength="49.7" lengthAdjust="spacingAndGlyphs">G201</text>
<line x1="882.5" y1="1157.7" x2="932.8" y2="1157.7" stroke="#000" stroke-width="2.2"/>
<rect x="1395.55" y="1017.55" width="111.9" height="90.7" fill="#aaaaaa"/>
<line x1="1392.8" y1="1017.55" x2="1510.2" y2="1017.55" stroke="#000" stroke-width="5.5" stroke-dasharray="10.5 7.32"/>
<line x1="1392.8" y1="1108.25" x2="1510.2" y2="1108.25" stroke="#000" stroke-width="5.5" stroke-dasharray="10.5 7.32"/>
<line x1="1395.55" y1="1014.8" x2="1395.55" y2="1111" stroke="#000" stroke-width="5.5" stroke-dasharray="10.5 6.64"/>
<line x1="1507.45" y1="1014.8" x2="1507.45" y2="1111" stroke="#000" stroke-width="5.5" stroke-dasharray="10.5 6.64"/>
<circle cx="1451.4" cy="1045" r="19" fill="#d2d2d2" stroke="#000" stroke-width="2.5"/>
<text x="1439.66" y="1053.4" font-size="22.97" textLength="23.06" lengthAdjust="spacingAndGlyphs">1B</text>
<text x="1520.64" y="1031.7" font-size="23.26" textLength="196.96" lengthAdjust="spacingAndGlyphs">SPEED CONTROL</text>
<line x1="1520.8" y1="1034.5" x2="1718.4" y2="1034.5" stroke="#000" stroke-width="2.6"/>
<text x="1519.85" y="1056" font-size="23.26" textLength="94.2" lengthAdjust="spacingAndGlyphs">MODULE</text>
<line x1="1520.8" y1="1057.3" x2="1614.7" y2="1057.3" stroke="#000" stroke-width="2.6"/>
<rect x="255.45" y="1181.75" width="111" height="90.8" fill="#aaaaaa"/>
<line x1="252.7" y1="1181.75" x2="369.2" y2="1181.75" stroke="#000" stroke-width="5.5" stroke-dasharray="10.5 7.17"/>
<line x1="252.7" y1="1272.55" x2="369.2" y2="1272.55" stroke="#000" stroke-width="5.5" stroke-dasharray="10.5 7.17"/>
<line x1="255.45" y1="1179" x2="255.45" y2="1275.3" stroke="#000" stroke-width="5.5" stroke-dasharray="10.5 6.66"/>
<line x1="366.45" y1="1179" x2="366.45" y2="1275.3" stroke="#000" stroke-width="5.5" stroke-dasharray="10.5 6.66"/>
<circle cx="310.6" cy="1209.8" r="19" fill="#d2d2d2" stroke="#000" stroke-width="2.5"/>
<text x="295.46" y="1217.8" font-size="22.97" textLength="28.18" lengthAdjust="spacingAndGlyphs">2L</text>
<text x="98.93" y="1200.9" font-size="23.26" textLength="144.01" lengthAdjust="spacingAndGlyphs">INSTRUMENT</text>
<line x1="99.9" y1="1203.2" x2="244.2" y2="1203.2" stroke="#000" stroke-width="2.6"/>
<text x="99.48" y="1224.8" font-size="23.26" textLength="105.58" lengthAdjust="spacingAndGlyphs">CLUSTER</text>
<line x1="99.9" y1="1227" x2="206.1" y2="1227" stroke="#000" stroke-width="2.6"/>
<rect x="680.55" y="1182.25" width="113.2" height="90" fill="#aaaaaa"/>
<line x1="677.8" y1="1182.25" x2="796.5" y2="1182.25" stroke="#000" stroke-width="5.5" stroke-dasharray="10.5 7.53"/>
<line x1="677.8" y1="1272.25" x2="796.5" y2="1272.25" stroke="#000" stroke-width="5.5" stroke-dasharray="10.5 7.53"/>
<line x1="680.55" y1="1179.5" x2="680.55" y2="1275" stroke="#000" stroke-width="5.5" stroke-dasharray="10.5 6.5"/>
<line x1="793.75" y1="1179.5" x2="793.75" y2="1275" stroke="#000" stroke-width="5.5" stroke-dasharray="10.5 6.5"/>
<circle cx="736.4" cy="1209.4" r="19" fill="#d2d2d2" stroke="#000" stroke-width="2.5"/>
<text x="722.64" y="1217.5" font-size="22.97" textLength="25.5" lengthAdjust="spacingAndGlyphs">1C</text>
<text x="474.75" y="1200.6" font-size="23.26" textLength="194.75" lengthAdjust="spacingAndGlyphs">SPEED CONTROL</text>
<line x1="474.9" y1="1203" x2="670.3" y2="1203" stroke="#000" stroke-width="2.6"/>
<text x="473.96" y="1224.4" font-size="23.26" textLength="93.59" lengthAdjust="spacingAndGlyphs">MODULE</text>
<line x1="474.9" y1="1227" x2="568.2" y2="1227" stroke="#000" stroke-width="2.6"/>
<rect x="1079.25" y="1115.15" width="113.1" height="91.7" fill="#aaaaaa"/>
<line x1="1076.5" y1="1115.15" x2="1195.1" y2="1115.15" stroke="#000" stroke-width="5.5" stroke-dasharray="10.5 7.52"/>
<line x1="1076.5" y1="1206.85" x2="1195.1" y2="1206.85" stroke="#000" stroke-width="5.5" stroke-dasharray="10.5 7.52"/>
<line x1="1079.25" y1="1112.4" x2="1079.25" y2="1209.6" stroke="#000" stroke-width="5.5" stroke-dasharray="10.5 6.84"/>
<line x1="1192.35" y1="1112.4" x2="1192.35" y2="1209.6" stroke="#000" stroke-width="5.5" stroke-dasharray="10.5 6.84"/>
<circle cx="1135.8" cy="1143.4" r="19" fill="#d2d2d2" stroke="#000" stroke-width="2.5"/>
<text x="1120.67" y="1151.7" font-size="22.97" textLength="30.54" lengthAdjust="spacingAndGlyphs">2N</text>
<text x="1078.52" y="1236.8" font-size="23.26" textLength="144.92" lengthAdjust="spacingAndGlyphs">INSTRUMENT</text>
<line x1="1079.5" y1="1238.8" x2="1224.7" y2="1238.8" stroke="#000" stroke-width="2.6"/>
<text x="1079.08" y="1260.6" font-size="23.26" textLength="105.37" lengthAdjust="spacingAndGlyphs">CLUSTER</text>
<line x1="1079.5" y1="1262.9" x2="1185.5" y2="1262.9" stroke="#000" stroke-width="2.6"/>
<path d="M 1274 299 L 1274 452.5" fill="none" stroke="#000" stroke-width="10.6" stroke-linejoin="miter" stroke-miterlimit="10"/>
<path d="M 1268.7 452.5 L 1259 462.5 M 1279.3 452.5 L 1289 462.5" stroke="#000" stroke-width="2.4" fill="none"/>
<path d="M 1401.6 299 L 1401.6 452.5" fill="none" stroke="#000" stroke-width="10.6" stroke-linejoin="miter" stroke-miterlimit="10"/>
<path d="M 1398.3 310 L 1404.9 324 M 1398.3 347 L 1404.9 361 M 1398.3 384 L 1404.9 398 M 1398.3 421 L 1404.9 435" stroke="#fff" stroke-width="1.7" fill="none"/>
<path d="M 1396.3 452.5 L 1386.6 462.5 M 1406.9 452.5 L 1416.6 462.5" stroke="#000" stroke-width="2.4" fill="none"/>
<text x="1235.98" y="369.45" font-size="23.98" textLength="20.84" lengthAdjust="spacingAndGlyphs">W</text>
<text x="1312.68" y="369.45" font-size="23.98" textLength="60.23" lengthAdjust="spacingAndGlyphs">W/BK</text>
<text x="1202.17" y="457.6" font-size="20.35" textLength="48.15" lengthAdjust="spacingAndGlyphs">C153</text>
<line x1="1202.5" y1="462" x2="1251.1" y2="462" stroke="#000" stroke-width="2.2"/>
<text x="1334.59" y="457.6" font-size="20.35" textLength="46.95" lengthAdjust="spacingAndGlyphs">C165</text>
<line x1="1334.9" y1="462" x2="1382.5" y2="462" stroke="#000" stroke-width="2.2"/>
<rect x="1246.6" y="471.3" width="85.2" height="93.2" fill="#b6b6b6" stroke="#000" stroke-width="5"/>
<rect x="1249.9" y="474.6" width="78.6" height="86.6" fill="none" stroke="#fff" stroke-width="1.6"/>
<line x1="1275.1" y1="472.8" x2="1275.1" y2="480.7" stroke="#000" stroke-width="2"/>
<line x1="1275.1" y1="555.3" x2="1275.1" y2="563" stroke="#000" stroke-width="2"/>
<path d="M 1275.1 480.7 L 1303.1 480.7 L 1303.1 555.3 L 1275.1 555.3" fill="none" stroke="#000" stroke-width="2.2"/>
<circle cx="1275.1" cy="480.7" r="5.3" fill="#000"/>
<circle cx="1275.1" cy="555.3" r="5.3" fill="#000"/>
<path d="M 1295.6 508.6 L 1310.6 508.6 L 1303.1 521.8 Z" fill="#000"/>
<line x1="1295.1" y1="522.6" x2="1311.1" y2="522.6" stroke="#000" stroke-width="2.2"/>
<path d="M 1275.1 483.7 Q 1261.1 495.1 1275.1 504.5 Q 1261.1 511.05 1275.1 517.6 Q 1261.1 524.15 1275.1 530.7 Q 1261.1 540.5 1275.1 550.3" fill="none" stroke="#000" stroke-width="2"/>
<ellipse cx="1275.1" cy="504.5" rx="5.5" ry="2.3" fill="none" stroke="#000" stroke-width="2"/>
<ellipse cx="1275.1" cy="517.6" rx="5.5" ry="2.3" fill="none" stroke="#000" stroke-width="2"/>
<ellipse cx="1275.1" cy="530.7" rx="5.5" ry="2.3" fill="none" stroke="#000" stroke-width="2"/>
<rect x="1374.9" y="471.3" width="83.4" height="93.2" fill="#b6b6b6" stroke="#000" stroke-width="5"/>
<rect x="1378.2" y="474.6" width="76.8" height="86.6" fill="none" stroke="#fff" stroke-width="1.6"/>
<line x1="1403.4" y1="472.8" x2="1403.4" y2="480.7" stroke="#000" stroke-width="2"/>
<line x1="1403.4" y1="555.3" x2="1403.4" y2="563" stroke="#000" stroke-width="2"/>
<path d="M 1403.4 480.7 L 1431.4 480.7 L 1431.4 555.3 L 1403.4 555.3" fill="none" stroke="#000" stroke-width="2.2"/>
<circle cx="1403.4" cy="480.7" r="5.3" fill="#000"/>
<circle cx="1403.4" cy="555.3" r="5.3" fill="#000"/>
<path d="M 1423.9 508.6 L 1438.9 508.6 L 1431.4 521.8 Z" fill="#000"/>
<line x1="1423.4" y1="522.6" x2="1439.4" y2="522.6" stroke="#000" stroke-width="2.2"/>
<path d="M 1403.4 483.7 Q 1389.4 495.1 1403.4 504.5 Q 1389.4 511.05 1403.4 517.6 Q 1389.4 524.15 1403.4 530.7 Q 1389.4 540.5 1403.4 550.3" fill="none" stroke="#000" stroke-width="2"/>
<ellipse cx="1403.4" cy="504.5" rx="5.5" ry="2.3" fill="none" stroke="#000" stroke-width="2"/>
<ellipse cx="1403.4" cy="517.6" rx="5.5" ry="2.3" fill="none" stroke="#000" stroke-width="2"/>
<ellipse cx="1403.4" cy="530.7" rx="5.5" ry="2.3" fill="none" stroke="#000" stroke-width="2"/>
<rect x="1608.8" y="470.3" width="84.2" height="93.2" fill="#b6b6b6" stroke="#000" stroke-width="5"/>
<rect x="1612.1" y="473.6" width="77.6" height="86.6" fill="none" stroke="#fff" stroke-width="1.6"/>
<line x1="1637.3" y1="471.8" x2="1637.3" y2="479.7" stroke="#000" stroke-width="2"/>
<line x1="1637.3" y1="554.3" x2="1637.3" y2="562" stroke="#000" stroke-width="2"/>
<path d="M 1637.3 479.7 L 1665.3 479.7 L 1665.3 554.3 L 1637.3 554.3" fill="none" stroke="#000" stroke-width="2.2"/>
<circle cx="1637.3" cy="479.7" r="5.3" fill="#000"/>
<circle cx="1637.3" cy="554.3" r="5.3" fill="#000"/>
<path d="M 1657.8 507.6 L 1672.8 507.6 L 1665.3 520.8 Z" fill="#000"/>
<line x1="1657.3" y1="521.6" x2="1673.3" y2="521.6" stroke="#000" stroke-width="2.2"/>
<path d="M 1637.3 482.7 Q 1623.3 494.1 1637.3 503.5 Q 1623.3 510.05 1637.3 516.6 Q 1623.3 523.15 1637.3 529.7 Q 1623.3 539.5 1637.3 549.3" fill="none" stroke="#000" stroke-width="2"/>
<ellipse cx="1637.3" cy="503.5" rx="5.5" ry="2.3" fill="none" stroke="#000" stroke-width="2"/>
<ellipse cx="1637.3" cy="516.6" rx="5.5" ry="2.3" fill="none" stroke="#000" stroke-width="2"/>
<ellipse cx="1637.3" cy="529.7" rx="5.5" ry="2.3" fill="none" stroke="#000" stroke-width="2"/>
<text x="1099.23" y="495.55" font-size="23.98" textLength="45.22" lengthAdjust="spacingAndGlyphs">EVR</text>
<line x1="1100.2" y1="499.6" x2="1145.5" y2="499.6" stroke="#000" stroke-width="2.6"/>
<text x="1100.06" y="523.55" font-size="23.98" textLength="115.26" lengthAdjust="spacingAndGlyphs">SOLENOID</text>
<line x1="1100.2" y1="526.5" x2="1215.9" y2="526.5" stroke="#000" stroke-width="2.6"/>
<text x="1466.57" y="490.65" font-size="23.98" textLength="115.89" lengthAdjust="spacingAndGlyphs">CANISTER</text>
<line x1="1467" y1="494" x2="1586" y2="494" stroke="#000" stroke-width="2.6"/>
<text x="1466.03" y="517.65" font-size="23.98" textLength="78.33" lengthAdjust="spacingAndGlyphs">PURGE</text>
<line x1="1467" y1="521.8" x2="1545" y2="521.8" stroke="#000" stroke-width="2.6"/>
<text x="1466.86" y="546.45" font-size="23.98" textLength="115.57" lengthAdjust="spacingAndGlyphs">SOLENOID</text>
<text x="1705.01" y="476.05" font-size="23.98" textLength="50.87" lengthAdjust="spacingAndGlyphs">IDLE</text>
<line x1="1706" y1="478.4" x2="1756.5" y2="478.4" stroke="#000" stroke-width="2.6"/>
<text x="1705.93" y="498.95" font-size="23.98" textLength="39.54" lengthAdjust="spacingAndGlyphs">AIR</text>
<line x1="1706" y1="501.8" x2="1746.5" y2="501.8" stroke="#000" stroke-width="2.6"/>
<text x="1704.96" y="522.45" font-size="23.98" textLength="94.95" lengthAdjust="spacingAndGlyphs">BYPASS</text>
<line x1="1706" y1="525.3" x2="1800.5" y2="525.3" stroke="#000" stroke-width="2.6"/>
<text x="1706.34" y="545.95" font-size="23.98" textLength="77.37" lengthAdjust="spacingAndGlyphs">VALVE</text>
<line x1="1706" y1="547.6" x2="1784.3" y2="547.6" stroke="#000" stroke-width="2.6"/>
<path d="M 1260 574.2 L 1269.7 584.2 M 1290 574.2 L 1280.3 584.2" stroke="#000" stroke-width="2.4" fill="none"/>
<path d="M 1388.4 574.2 L 1398.1 584.2 M 1418.4 574.2 L 1408.7 584.2" stroke="#000" stroke-width="2.4" fill="none"/>
<text x="1207.47" y="588.5" font-size="20.35" textLength="48.36" lengthAdjust="spacingAndGlyphs">C163</text>
<line x1="1207.8" y1="592.9" x2="1256.6" y2="592.9" stroke="#000" stroke-width="2.2"/>
<text x="1335.37" y="588.5" font-size="20.35" textLength="48.19" lengthAdjust="spacingAndGlyphs">C165</text>
<line x1="1335.7" y1="592.9" x2="1384.5" y2="592.9" stroke="#000" stroke-width="2.2"/>
<path d="M 1275 584.2 L 1275 624 L 1390 624" fill="none" stroke="#000" stroke-width="10.6" stroke-linejoin="miter" stroke-miterlimit="10"/>
<path d="M 1271.7 593.2 L 1278.3 607.2 M 1281 627.3 L 1301 620.7 M 1318 627.3 L 1338 620.7 M 1355 627.3 L 1375 620.7" stroke="#fff" stroke-width="1.7" fill="none"/>
<path d="M 1403.4 584.2 L 1403.4 611" fill="none" stroke="#000" stroke-width="10.6" stroke-linejoin="miter" stroke-miterlimit="10"/>
<path d="M 1400.1 590.6 L 1406.7 604.6" stroke="#fff" stroke-width="1.7" fill="none"/>
<circle cx="1403.5" cy="624" r="7.5" fill="#000"/>
<path d="M 1403.4 638 L 1403.4 693.5" fill="none" stroke="#000" stroke-width="10.6" stroke-linejoin="miter" stroke-miterlimit="10"/>
<path d="M 1400.1 651 L 1406.7 665" stroke="#fff" stroke-width="1.7" fill="none"/>
<path d="M 1398.1 693.5 L 1388.4 703.5 M 1408.7 693.5 L 1418.4 703.5" stroke="#000" stroke-width="2.4" fill="none"/>
<text x="1425.11" y="634.3" font-size="20.35" textLength="47.6" lengthAdjust="spacingAndGlyphs">S144</text>
<line x1="1425.2" y1="637.4" x2="1474.1" y2="637.4" stroke="#000" stroke-width="2.2"/>
<text x="1302.32" y="653.55" font-size="23.98" textLength="57.9" lengthAdjust="spacingAndGlyphs">R/BK</text>
<text x="1411.95" y="686.45" font-size="23.98" textLength="56.67" lengthAdjust="spacingAndGlyphs">R/BK</text>
<text x="1335.85" y="699.9" font-size="20.35" textLength="49.6" lengthAdjust="spacingAndGlyphs">C146</text>
<line x1="1334" y1="701.4" x2="1386.2" y2="701.4" stroke="#000" stroke-width="2.2"/>
<rect x="1347.05" y="712.25" width="113.6" height="92.3" fill="#aaaaaa"/>
<line x1="1344.3" y1="712.25" x2="1463.4" y2="712.25" stroke="#000" stroke-width="5.5" stroke-dasharray="10.5 7.6"/>
<line x1="1344.3" y1="804.55" x2="1463.4" y2="804.55" stroke="#000" stroke-width="5.5" stroke-dasharray="10.5 7.6"/>
<line x1="1347.05" y1="709.5" x2="1347.05" y2="807.3" stroke="#000" stroke-width="5.5" stroke-dasharray="10.5 6.96"/>
<line x1="1460.65" y1="709.5" x2="1460.65" y2="807.3" stroke="#000" stroke-width="5.5" stroke-dasharray="10.5 6.96"/>
<text x="1131.47" y="728.05" font-size="23.98" textLength="148.69" lengthAdjust="spacingAndGlyphs">INTEGRATED</text>
<line x1="1132.5" y1="730.5" x2="1280.7" y2="730.5" stroke="#000" stroke-width="2.6"/>
<text x="1131.43" y="751.55" font-size="23.98" textLength="201.49" lengthAdjust="spacingAndGlyphs">RELAY CONTROL</text>
<line x1="1132.5" y1="754.2" x2="1333.7" y2="754.2" stroke="#000" stroke-width="2.6"/>
<text x="1131.54" y="775.85" font-size="23.98" textLength="94.51" lengthAdjust="spacingAndGlyphs">MODULE</text>
<line x1="1132.5" y1="778.4" x2="1226.7" y2="778.4" stroke="#000" stroke-width="2.6"/>
<path d="M 1636 299 L 1636 382" fill="none" stroke="#000" stroke-width="10.6" stroke-linejoin="miter" stroke-miterlimit="10"/>
<path d="M 1632.7 308 L 1639.3 322 M 1632.7 345 L 1639.3 359" stroke="#fff" stroke-width="1.7" fill="none"/>
<path d="M 1621 371.7 L 1630.7 381.7 M 1651 371.7 L 1641.3 381.7" stroke="#000" stroke-width="2.4" fill="none"/>
<path d="M 1621 382 L 1630.7 391.2 M 1651 382 L 1641.3 391.2" stroke="#000" stroke-width="2.4" fill="none"/>
<path d="M 1636 391.2 L 1636 450.5" fill="none" stroke="#000" stroke-width="10.6" stroke-linejoin="miter" stroke-miterlimit="10"/>
<path d="M 1632.7 398.2 L 1639.3 412.2 M 1632.7 435.2 L 1639.3 449.2" stroke="#fff" stroke-width="1.7" fill="none"/>
<path d="M 1630.7 450.5 L 1621 460.5 M 1641.3 450.5 L 1651 460.5" stroke="#000" stroke-width="2.4" fill="none"/>
<text x="1649.98" y="345.75" font-size="23.98" textLength="47.53" lengthAdjust="spacingAndGlyphs">W/R</text>
<text x="1550.79" y="388" font-size="20.35" textLength="47.49" lengthAdjust="spacingAndGlyphs">C157</text>
<line x1="1551.1" y1="391.5" x2="1608.6" y2="391.5" stroke="#000" stroke-width="2.2"/>
<text x="1649.03" y="424.95" font-size="23.98" textLength="58.88" lengthAdjust="spacingAndGlyphs">O/BK</text>
<text x="1569.59" y="457.1" font-size="20.35" textLength="47.14" lengthAdjust="spacingAndGlyphs">C169</text>
<line x1="1569.9" y1="461.2" x2="1617.5" y2="461.2" stroke="#000" stroke-width="2.2"/>
<path d="M 1622 571 L 1631.7 581 M 1652 571 L 1642.3 581" stroke="#000" stroke-width="2.4" fill="none"/>
<path d="M 1637 581 L 1637.4 716" fill="none" stroke="#000" stroke-width="10.6" stroke-linejoin="miter" stroke-miterlimit="10"/>
<path d="M 1627.4 715.5 L 1647.8 715.5 L 1637.6 736 Z" fill="#000"/>
<text x="1649.37" y="596.9" font-size="20.35" textLength="48.38" lengthAdjust="spacingAndGlyphs">C169</text>
<line x1="1649.7" y1="600.6" x2="1705" y2="600.6" stroke="#000" stroke-width="2.2"/>
<text x="1605.69" y="667.45" font-size="23.98" textLength="11.95" lengthAdjust="spacingAndGlyphs">R</text>
<text x="1609.35" y="769.55" font-size="23.98" textLength="31.2" lengthAdjust="spacingAndGlyphs">TO</text>
<text x="1608.11" y="797.65" font-size="23.98" textLength="57.97" lengthAdjust="spacingAndGlyphs">FUEL</text>
<text x="1608.05" y="825.65" font-size="23.98" textLength="132.25" lengthAdjust="spacingAndGlyphs">INJECTORS</text>
<path d="M 1855 299 L 1856 715" fill="none" stroke="#000" stroke-width="10.6" stroke-linejoin="miter" stroke-miterlimit="10"/>
<path d="M 1851.74 310 L 1858.34 324 M 1851.83 347 L 1858.43 361 M 1851.92 384 L 1858.52 398 M 1852.01 421 L 1858.61 435 M 1852.1 458 L 1858.7 472 M 1852.19 495 L 1858.79 509 M 1852.28 532 L 1858.88 546 M 1852.37 569 L 1858.97 583 M 1852.45 606 L 1859.05 620 M 1852.54 643 L 1859.14 657 M 1852.63 680 L 1859.23 694" stroke="#fff" stroke-width="1.7" fill="none"/>
<path d="M 1850.7 715 L 1841 725 M 1861.3 715 L 1871 725" stroke="#000" stroke-width="2.4" fill="none"/>
<path d="M 1849.5 724.6 L 1841 733.6 M 1862.5 724.6 L 1871 733.6" stroke="#000" stroke-width="2.4" fill="none"/>
<path d="M 1856.3 724.6 L 1857 1063" fill="none" stroke="#000" stroke-width="10.6" stroke-linejoin="miter" stroke-miterlimit="10"/>
<path d="M 1853.05 739.6 L 1859.65 753.6 M 1853.12 776.6 L 1859.72 790.6 M 1853.2 813.6 L 1859.8 827.6 M 1853.28 850.6 L 1859.88 864.6 M 1853.35 887.6 L 1859.95 901.6 M 1853.43 924.6 L 1860.03 938.6 M 1853.5 961.6 L 1860.1 975.6 M 1853.58 998.6 L 1860.18 1012.6 M 1853.66 1035.6 L 1860.26 1049.6" stroke="#fff" stroke-width="1.7" fill="none"/>
<text x="1771.73" y="424.95" font-size="23.98" textLength="59.67" lengthAdjust="spacingAndGlyphs">BK/Y</text>
<text x="1879.37" y="731.3" font-size="20.35" textLength="48.45" lengthAdjust="spacingAndGlyphs">C158</text>
<line x1="1879.7" y1="734.4" x2="1933" y2="734.4" stroke="#000" stroke-width="2.2"/>
<text x="1774.57" y="871.75" font-size="23.98" textLength="58.33" lengthAdjust="spacingAndGlyphs">BK/Y</text>
<circle cx="1857.5" cy="1076.1" r="7" fill="#000"/>
<line x1="1842.4" y1="1084.2" x2="1873" y2="1084.2" stroke="#000" stroke-width="2.4"/>
<line x1="1847.3" y1="1090.8" x2="1868" y2="1090.8" stroke="#000" stroke-width="2.4"/>
<line x1="1852" y1="1098.2" x2="1863.2" y2="1098.2" stroke="#000" stroke-width="2.4"/>
<text x="1712.86" y="1096.8" font-size="23.26" textLength="109.02" lengthAdjust="spacingAndGlyphs">BATTERY</text>
<line x1="1713.9" y1="1100.6" x2="1823" y2="1100.6" stroke="#000" stroke-width="2.6"/>
</svg>
</body></html>
